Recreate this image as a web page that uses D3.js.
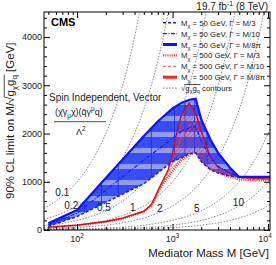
<!DOCTYPE html>
<html><head><meta charset="utf-8">
<script src="https://cdn.jsdelivr.net/npm/d3@7.9.0/dist/d3.min.js"></script>
<style>
body{margin:0;background:#fff;}
svg{display:block;font-family:"Liberation Sans",Arial,sans-serif;}
</style></head><body>
<script>
// M_chi = 50 GeV band
const blueMass = [50, 100, 200, 300, 500, 700, 1000, 1250, 1500, 1750, 2000, 2500, 3000, 4000, 5000, 7000, 10500];
const blueM3   = [80, 280, 573, 744, 960, 1183, 1420, 1500, 1580, 1600, 1420, 1250, 1180, 1120, 1100, 1100, 1100];
const blueM10  = [110, 350, 824, 1101, 1450, 1668, 1900, 2050, 2120, 2150, 1850, 1500, 1320, 1180, 1100, 1100, 1100];
const blueM8pi = [140, 415, 1080, 1460, 1950, 2250, 2520, 2640, 2700, 2720, 2290, 1870, 1600, 1290, 1100, 1100, 1100];
const blueEdges = [120, 180, 270, 600, 1050, 1350, 1700, 2300];

// M_chi = 500 GeV band
const redMass = [50, 100, 200, 300, 500, 600, 750, 900, 1000, 1100, 1250, 1500, 1750, 2000, 2500, 3000, 4000, 5000, 7000, 10500];
const redM3   = [55, 95, 170, 240, 380, 500, 880, 1100, 1230, 1330, 1450, 1570, 1610, 1420, 1270, 1190, 1100, 1050, 1035, 1030];
const redM10  = [57, 97, 173, 243, 384, 510, 900, 1180, 1400, 1650, 1950, 2180, 2220, 1850, 1460, 1290, 1150, 1080, 1050, 1045];
const redM8pi = [60, 100, 176, 246, 388, 530, 930, 1250, 1600, 2000, 2420, 2630, 2420, 2050, 1510, 1300, 1180, 1100, 1070, 1060];

// sqrt(g_chi g_q) contours
const contours = [0.1, 0.2, 0.5, 1, 2, 5, 10, 20];
const contourLabels = ['0.1', '0.2', '0.5', '1', '2', '5', '10'];
const contourLabelMass = [70, 87, 191, 384, 736, 1800, 4900];

const yMajor = [0, 1000, 2000, 3000, 4000];
const xMajor = [100, 1000, 10000];
const xMajorExp = ['2', '3', '4'];

const W = 276, H = 265;
const svg = d3.select('body').append('svg').attr('width', W).attr('height', H);

const x = d3.scaleLog().domain([45, 10500]).range([44, 270]);
const y = d3.scaleLinear().domain([0, 4520]).range([230, 12]);

const defs = svg.append('defs');
defs.append('clipPath').attr('id', 'plot')
  .append('rect').attr('x', 44).attr('y', 12).attr('width', 226).attr('height', 218);

let stripes = defs.append('pattern').attr('id', 'blueFill')
  .attr('patternUnits', 'userSpaceOnUse').attr('width', 10).attr('height', 16)
  .attr('patternTransform', 'translate(0,4)');
stripes.append('rect').attr('width', 10).attr('height', 16).attr('fill', '#3a4cf2');
stripes.append('rect').attr('y', 0).attr('width', 10).attr('height', 5).attr('fill', '#8e9cf6');

let hatch = defs.append('pattern').attr('id', 'redHatch')
  .attr('patternUnits', 'userSpaceOnUse').attr('width', 3).attr('height', 3)
  .attr('patternTransform', 'rotate(45)');
hatch.append('line').attr('x1', 0).attr('y1', 0).attr('x2', 0).attr('y2', 3)
  .attr('stroke', '#f03030').attr('stroke-width', 1.1);

const plot = svg.append('g').attr('clip-path', 'url(#plot)');

// contours
let cm = d3.range(0, 121).map(i => 45 * Math.pow(10500 / 45, i / 120));
contours.forEach(c => {
  plot.append('path')
    .attr('d', d3.line().x(m => x(m)).y(m => y(m / c))(cm))
    .attr('fill', 'none').attr('stroke', '#555').attr('stroke-width', 0.7)
    .attr('stroke-dasharray', '1.5,1.5');
});

// bands
let bandArea = (mass, lo, hi) => d3.area()
  .x((d, i) => x(mass[i])).y0((d, i) => y(lo[i])).y1((d, i) => y(hi[i]))(mass);

plot.append('path').attr('d', bandArea(blueMass, blueM3, blueM8pi)).attr('fill', 'url(#blueFill)');

let interp = (mass, vals, m) => {
  let i = d3.bisectLeft(mass, m);
  let t = (Math.log(m) - Math.log(mass[i - 1])) / (Math.log(mass[i]) - Math.log(mass[i - 1]));
  return vals[i - 1] + t * (vals[i] - vals[i - 1]);
};
blueEdges.forEach(m => {
  plot.append('line')
    .attr('x1', x(m)).attr('x2', x(m))
    .attr('y1', y(interp(blueMass, blueM3, m))).attr('y2', y(interp(blueMass, blueM8pi, m)))
    .attr('stroke', '#1a2ee6').attr('stroke-width', 0.8);
});

plot.append('path').attr('d', bandArea(redMass, redM3, redM8pi)).attr('fill', 'url(#redHatch)');

let curve = (mass, vals) => d3.line().x((d, i) => x(mass[i])).y((d, i) => y(vals[i]))(mass);

const styles = {
  bM3:   { stroke: '#1020ff', width: 1.5, dash: '3,2' },
  bM10:  { stroke: '#1020ff', width: 1.2, dash: '4,1.5,1,1.5' },
  bM8pi: { stroke: '#0a14ff', width: 2.2, dash: null },
  rM3:   { stroke: '#ff3030', width: 2.4, dash: '1,1.2' },
  rM10:  { stroke: '#ff5050', width: 1.0, dash: '3,2' },
  rM8pi: { stroke: '#d41010', width: 1.4, dash: null },
};
let drawCurve = (mass, vals, s) => plot.append('path').attr('d', curve(mass, vals))
  .attr('fill', 'none').attr('stroke', s.stroke).attr('stroke-width', s.width)
  .attr('stroke-dasharray', s.dash);

drawCurve(redMass, redM3, styles.rM3);
drawCurve(redMass, redM10, styles.rM10);
drawCurve(redMass, redM8pi, styles.rM8pi);
drawCurve(blueMass, blueM3, styles.bM3);
drawCurve(blueMass, blueM10, styles.bM10);
drawCurve(blueMass, blueM8pi, styles.bM8pi);

// contour labels
contourLabels.forEach((t, i) => {
  let m = contourLabelMass[i];
  svg.append('text').attr('x', x(m)).attr('y', y(m / contours[i]) - 4)
    .attr('dy', '0.35em').attr('text-anchor', 'middle')
    .attr('font-size', 10).attr('fill', '#222').text(t);
});

// rich text helper
function rich(sel, parts, fs) {
  let shift = 0;
  parts.forEach(([s, m]) => {
    let target = m === 'sub' ? fs * 0.3 : m === 'sup' ? -fs * 0.4 : 0;
    sel.append('tspan').attr('dy', target - shift)
      .attr('font-size', m === 'n' ? fs : fs * 0.7).text(s);
    shift = target;
  });
  return sel;
}
function overline(textEl, from, to, fs) {
  let node = textEl.node();
  let x0 = node.getStartPositionOfChar(from).x;
  let x1 = node.getEndPositionOfChar(to).x;
  let yy = node.getStartPositionOfChar(0).y - fs * 0.85;
  d3.select(node.parentNode).append('line')
    .attr('x1', x0 - 1).attr('x2', x1 + 0.5).attr('y1', yy).attr('y2', yy)
    .attr('stroke', '#000').attr('stroke-width', 0.7);
}

// axes
const axes = svg.append('g').attr('font-size', 9);
let ax = (g, a) => { g.call(a); g.select('.domain').remove(); g.selectAll('line').attr('stroke', '#000'); return g; };
ax(axes.append('g').attr('transform', 'translate(44,0)'),
  d3.axisLeft(y).tickValues(yMajor).tickSizeInner(-6).tickSizeOuter(0).tickPadding(2).tickFormat(d3.format('d')))
  .selectAll('text').attr('font-size', 9).attr('font-family', 'Liberation Sans, Arial').attr('fill', '#222');
ax(axes.append('g').attr('transform', 'translate(44,0)'),
  d3.axisLeft(y).tickValues(d3.range(200, 4520, 200).filter(v => v % 1000)).tickSizeInner(-3).tickSizeOuter(0).tickFormat(''));
ax(axes.append('g').attr('transform', 'translate(270,0)'),
  d3.axisRight(y).tickValues(yMajor).tickSizeInner(-6).tickSizeOuter(0).tickFormat(''));
ax(axes.append('g').attr('transform', 'translate(270,0)'),
  d3.axisRight(y).tickValues(d3.range(200, 4520, 200).filter(v => v % 1000)).tickSizeInner(-3).tickSizeOuter(0).tickFormat(''));

let xMinor = [];
[10, 100, 1000].forEach(p => d3.range(2, 10).forEach(k => { let v = k * p; if (v >= 45 && v <= 10500) xMinor.push(v); }));
ax(axes.append('g').attr('transform', 'translate(0,230)'),
  d3.axisBottom(x).tickValues(xMajor).tickSizeInner(-6).tickSizeOuter(0).tickFormat(''));
ax(axes.append('g').attr('transform', 'translate(0,230)'),
  d3.axisBottom(x).tickValues(xMinor).tickSizeInner(-3).tickSizeOuter(0).tickFormat(''));
ax(axes.append('g').attr('transform', 'translate(0,12)'),
  d3.axisTop(x).tickValues(xMajor).tickSizeInner(-6).tickSizeOuter(0).tickFormat(''));
ax(axes.append('g').attr('transform', 'translate(0,12)'),
  d3.axisTop(x).tickValues(xMinor).tickSizeInner(-3).tickSizeOuter(0).tickFormat(''));

xMajor.forEach((v, i) => {
  let t = svg.append('text').attr('x', x(v) - (i === 2 ? 3 : 0)).attr('y', 242).attr('text-anchor', 'middle').attr('fill', '#222');
  rich(t, [['10', 'n'], [xMajorExp[i], 'sup']], 9);
});

svg.append('rect').attr('x', 44).attr('y', 12).attr('width', 226).attr('height', 218)
  .attr('fill', 'none').attr('stroke', '#000').attr('stroke-width', 1);

// titles
svg.append('text').attr('x', 269).attr('y', 257).attr('text-anchor', 'end')
  .attr('font-size', 11.5).attr('fill', '#222').text('Mediator Mass M [GeV]');

let yt = svg.append('g').attr('transform', 'translate(14,199) rotate(-90)')
  .append('text').attr('x', 0).attr('y', 0).attr('fill', '#222');
rich(yt, [['90% CL limit on M/√', 'n'], ['g', 'n'], ['χ', 'sub'], ['g', 'n'], ['q', 'sub'], [' [GeV]', 'n']], 11.5);
overline(yt, 19, 22, 11.5);

svg.append('text').attr('x', 51).attr('y', 25.5).attr('font-size', 11).attr('font-weight', 'bold').text('CMS');

let lumi = svg.append('text').attr('x', 268).attr('y', 10).attr('text-anchor', 'end').attr('fill', '#222');
rich(lumi, [['19.7 fb', 'n'], ['-1', 'sup'], [' (8 TeV)', 'n']], 10);

svg.append('text').attr('x', 49).attr('y', 101).attr('font-size', 10).attr('fill', '#222')
  .text('Spin Independent, Vector');
let num = svg.append('text').attr('x', 55).attr('y', 115).attr('fill', '#222');
rich(num, [['(χ̄γ', 'n'], ['μ', 'sub'], ['χ)(q̄γ', 'n'], ['μ', 'sup'], ['q)', 'n']], 9);
svg.append('line').attr('x1', 54).attr('x2', 106).attr('y1', 121.7).attr('y2', 121.7)
  .attr('stroke', '#222').attr('stroke-width', 0.8);
let den = svg.append('text').attr('x', 76).attr('y', 135).attr('fill', '#222');
rich(den, [['Λ', 'n'], ['2', 'sup']], 9);

// legend
const legendLabels = [
  ['50', 'M/3'], ['50', 'M/10'], ['50', 'M/8π'],
  ['500', 'M/3'], ['500', 'M/10'], ['500', 'M/8π'],
];
const legendKeys = ['bM3', 'bM10', 'bM8pi', 'rM3', 'rM10', 'rM8pi'];
const legendWidths = [1.5, 1.2, 3, 2.2, 1, 3];
let leg = svg.append('g');
legendLabels.forEach(([mc, g], i) => {
  let yy = 22.7 + i * 10.9;
  let s = styles[legendKeys[i]];
  leg.append('line').attr('x1', 163).attr('x2', 177).attr('y1', yy).attr('y2', yy)
    .attr('stroke', i === 5 ? '#ff2020' : s.stroke).attr('stroke-width', legendWidths[i]).attr('stroke-dasharray', s.dash);
  let t = leg.append('text').attr('x', 181).attr('y', yy + 3).attr('fill', '#222');
  rich(t, [['M', 'n'], ['χ', 'sub'], [' = ' + mc + ' GeV, Γ = ' + g, 'n']], 7.8);
});
let yy = 22.7 + 6 * 10.9;
leg.append('line').attr('x1', 163).attr('x2', 177).attr('y1', yy).attr('y2', yy)
  .attr('stroke', '#555').attr('stroke-width', 0.8).attr('stroke-dasharray', '1.5,1.5');
let ct = leg.append('text').attr('x', 181).attr('y', yy + 3).attr('fill', '#222');
rich(ct, [['√', 'n'], ['g', 'n'], ['χ', 'sub'], ['g', 'n'], ['q', 'sub'], [' contours', 'n']], 7.8);
overline(ct, 1, 4, 7.8);
</script>
</body></html>
